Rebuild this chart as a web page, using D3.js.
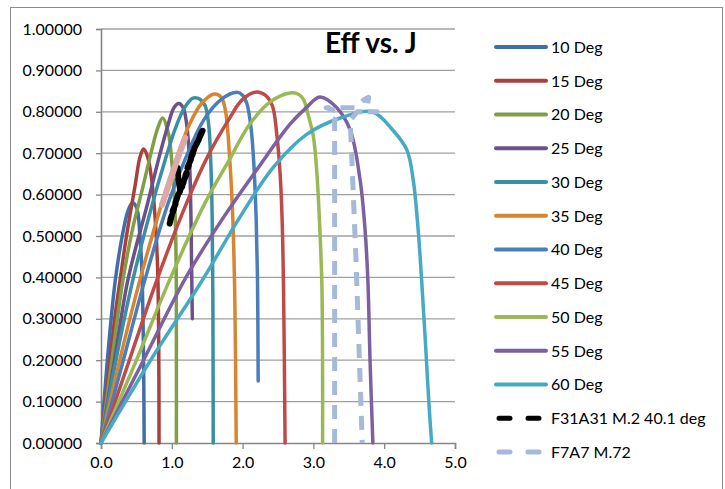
<!DOCTYPE html>
<html><head><meta charset="utf-8">
<script src="https://cdn.jsdelivr.net/npm/d3@7"></script>
<style>body{margin:0;background:#fff}svg{display:block}text{font-family:Lato,"Open Sans",sans-serif}</style>
</head><body><svg id="c" width="725" height="489"></svg>
<script>
const seriesNames = ["10 Deg","15 Deg","20 Deg","25 Deg","30 Deg","35 Deg","40 Deg","45 Deg","50 Deg","55 Deg","60 Deg","F31A31 M.2 40.1 deg","F7A7 M.72"];
const seriesColors = ["#3F6FAB","#A9403D","#809E48","#6A518A","#3A8FA5","#D98431","#4A7EBB","#BE4B48","#98B954","#7D60A0","#46AAC5","#000000","#A6B9D8"];
const xTicks = [0,1,2,3,4,5];
const yTicks = [0,0.1,0.2,0.3,0.4,0.5,0.6,0.7,0.8,0.9,1.0];

const deg10 = [[0,0],[0.1,0.22],[0.2,0.39],[0.3,0.5],[0.38,0.56],[0.44,0.58],[0.5,0.57],[0.55,0.5],[0.58,0.4],[0.6,0.22],[0.61,0]];
const deg15 = [[0,0],[0.1,0.16],[0.2,0.31],[0.27,0.394],[0.36,0.5],[0.48,0.62],[0.55,0.69],[0.6,0.71],[0.66,0.69],[0.72,0.63],[0.77,0.53],[0.8,0.42],[0.815,0.25],[0.82,0]];
const deg20 = [[0,0],[0.2,0.26],[0.31,0.394],[0.45,0.52],[0.58,0.61],[0.72,0.71],[0.8,0.76],[0.87,0.785],[0.95,0.75],[1.0,0.68],[1.04,0.58],[1.06,0.45],[1.065,0.2],[1.065,0]];
const deg25 = [[0,0],[0.2,0.21],[0.38,0.394],[0.66,0.58],[0.82,0.69],[0.95,0.77],[1.03,0.81],[1.1,0.82],[1.16,0.81],[1.21,0.77],[1.25,0.68],[1.27,0.55],[1.28,0.42],[1.29,0.3]];
const deg30 = [[0,0],[0.2,0.19],[0.45,0.394],[0.73,0.58],[0.9,0.68],[1.05,0.76],[1.18,0.81],[1.3,0.833],[1.4,0.83],[1.47,0.815],[1.52,0.77],[1.55,0.68],[1.57,0.55],[1.58,0.35],[1.585,0]];
const deg35 = [[0,0],[0.25,0.19],[0.55,0.394],[0.86,0.58],[1.05,0.68],[1.25,0.77],[1.42,0.82],[1.6,0.843],[1.7,0.835],[1.76,0.8],[1.82,0.68],[1.86,0.55],[1.89,0.35],[1.91,0]];
const deg40 = [[0,0],[0.3,0.19],[0.62,0.394],[0.95,0.58],[1.2,0.69],[1.45,0.78],[1.7,0.83],[1.92,0.847],[2.0,0.84],[2.06,0.82],[2.12,0.76],[2.16,0.67],[2.19,0.55],[2.21,0.4],[2.22,0.15]];
const deg45 = [[0,0],[0.4,0.2],[0.79,0.394],[1.21,0.58],[1.5,0.69],[1.8,0.78],[2.0,0.83],[2.2,0.848],[2.32,0.84],[2.42,0.815],[2.48,0.75],[2.53,0.65],[2.56,0.53],[2.58,0.35],[2.6,0]];
const deg50 = [[0,0],[0.5,0.2],[0.97,0.394],[1.47,0.58],[1.8,0.68],[2.1,0.77],[2.4,0.825],[2.65,0.845],[2.78,0.843],[2.86,0.83],[2.93,0.79],[3.0,0.74],[3.05,0.65],[3.09,0.52],[3.12,0.38],[3.13,0.15],[3.13,0]];
const deg55 = [[0,0],[0.6,0.2],[1.2,0.4],[1.73,0.545],[2.2,0.66],[2.67,0.77],[2.9,0.81],[3.09,0.836],[3.33,0.81],[3.52,0.756],[3.66,0.635],[3.73,0.514],[3.77,0.39],[3.8,0.2],[3.84,0]];
const deg60 = [[0,0],[0.7,0.2],[1.42,0.39],[1.96,0.545],[2.43,0.665],[2.9,0.745],[3.38,0.785],[3.83,0.8],[4.12,0.756],[4.32,0.708],[4.41,0.635],[4.48,0.514],[4.53,0.39],[4.58,0.25],[4.63,0.1],[4.67,0]];
const f31a31 = [[0.97,0.53],[1.0,0.55],[0.98,0.54],[1.03,0.565],[1.01,0.56],[1.06,0.58],[1.04,0.575],[1.09,0.6],[1.07,0.59],[1.12,0.61],[1.09,0.64],[1.08,0.665],[1.1,0.63],[1.15,0.62],[1.13,0.615],[1.18,0.635],[1.16,0.63],[1.21,0.65],[1.19,0.645],[1.24,0.67],[1.22,0.665],[1.27,0.685],[1.25,0.68],[1.3,0.7],[1.28,0.695],[1.33,0.715],[1.31,0.71],[1.36,0.725],[1.34,0.72],[1.39,0.735],[1.37,0.73],[1.42,0.748],[1.4,0.743],[1.44,0.756]];
const f7a7 = [[3.3,0],[3.3,0.4],[3.3,0.78],[3.36,0.8],[3.18,0.81],[3.45,0.81],[3.6,0.81],[3.72,0.83],[3.78,0.835],[3.75,0.8],[3.9,0.8],[3.62,0.8],[3.52,0.78],[3.6,0.45],[3.69,0]];
const pinkSeg = [[0.86,0.575],[0.95,0.62],[1.05,0.67],[1.12,0.705],[1.19,0.737]];

const seriesData = [deg10,deg15,deg20,deg25,deg30,deg35,deg40,deg45,deg50,deg55,deg60,f31a31,f7a7];

const svg = d3.select("#c");
svg.append("rect").attr("x",10.5).attr("y",7.5).attr("width",712).attr("height",490)
  .attr("fill","#fff").attr("stroke","#8a8a8a").attr("stroke-width",1);

const x = d3.scaleLinear().domain([0,5]).range([101,455]);
const y = d3.scaleLinear().domain([0,1]).range([443,29]);

svg.append("g").selectAll("line").data(yTicks.slice(1)).join("line")
  .attr("x1",101).attr("x2",455).attr("y1",d=>y(d)).attr("y2",d=>y(d))
  .attr("stroke","#a0a0a0").attr("stroke-width",1.3);

const yAxis = svg.append("g").attr("transform","translate(101,0)")
  .call(d3.axisLeft(y).tickValues(yTicks).tickFormat(d3.format(".5f")).tickSize(5).tickPadding(14));
const xAxis = svg.append("g").attr("transform","translate(0,443)")
  .call(d3.axisBottom(x).tickValues(xTicks).tickFormat(d3.format(".1f")).tickSize(6).tickPadding(8));
[yAxis,xAxis].forEach(a=>{
  a.selectAll("path").attr("stroke","#868686").attr("stroke-width",1.6);
  a.selectAll("line").attr("stroke","#868686").attr("stroke-width",1.3);
  a.selectAll("text").attr("font-size",16).attr("fill","#000").attr("font-family","Lato");
});

const lineSmooth = d3.line().x(d=>x(d[0])).y(d=>y(d[1])).curve(d3.curveCatmullRom.alpha(0.5));
const lineStraight = d3.line().x(d=>x(d[0])).y(d=>y(d[1]));

const g = svg.append("g");
seriesData.forEach((data,i)=>{
  const p = g.append("path").attr("fill","none").attr("stroke",seriesColors[i])
    .attr("stroke-linejoin","round").attr("stroke-linecap","round");
  if(i<11){
    p.attr("d", lineSmooth(data)).attr("stroke-width",3.5);
  } else if(i===11){
    p.attr("d", lineStraight(data)).attr("stroke-width",6).attr("stroke-dasharray","14,6");
  } else {
    p.attr("d", lineStraight(data)).attr("stroke-width",5).attr("stroke-dasharray","14,10").attr("stroke-linecap","butt");
  }
});
g.append("path").attr("fill","none").attr("stroke","#DDA9A7").attr("stroke-width",6)
  .attr("stroke-linecap","round").attr("d",lineStraight(pinkSeg));

svg.append("text").attr("x",325).attr("y",53).attr("font-size",28).attr("font-weight","bold").text("Eff vs. J");

const leg = svg.append("g").selectAll("g").data(seriesNames).join("g")
  .attr("transform",(d,i)=>`translate(0,${47+i*33.75})`);
leg.append("line").attr("x1",(d,i)=>i<11?496:499).attr("x2",(d,i)=>i<11?546:543).attr("y1",0).attr("y2",0)
  .attr("stroke",(d,i)=>seriesColors[i]).attr("stroke-width",(d,i)=>i<11?4:5)
  .attr("stroke-linecap","round")
  .attr("stroke-dasharray",(d,i)=>i<11?null:"11,18");
leg.append("text").attr("x",551).attr("y",0).attr("dy","0.36em").attr("font-size",16).text(d=>d);
</script></body></html>
